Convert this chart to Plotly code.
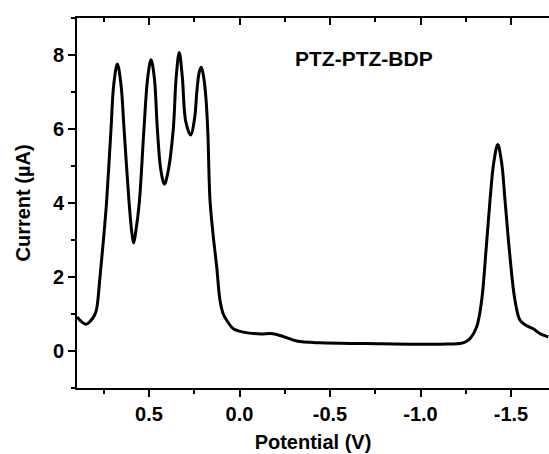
import plotly.graph_objects as go

# Potential (V) and current (µA)
potential = [0.898, 0.87, 0.848, 0.825, 0.80, 0.789, 0.771, 0.752, 0.735, 0.71, 0.695, 0.675, 0.655,
             0.638, 0.61, 0.595, 0.585, 0.574, 0.554, 0.528, 0.507, 0.489, 0.471, 0.454, 0.435,
             0.415, 0.393, 0.366, 0.35, 0.333, 0.316, 0.297, 0.27, 0.248, 0.236, 0.222, 0.211,
             0.198, 0.185, 0.175, 0.163, 0.145, 0.126, 0.108, 0.09, 0.071, 0.034, -0.021, -0.12,
             -0.17, -0.224, -0.26, -0.316, -0.445, -0.7, -0.997, -1.15, -1.218, -1.25, -1.273,
             -1.31, -1.338, -1.362, -1.384, -1.405, -1.427, -1.448, -1.467, -1.491, -1.522, -1.55,
             -1.58, -1.623, -1.66, -1.706]
current = [0.92, 0.78, 0.72, 0.80, 0.98, 1.15, 2.0, 3.0, 4.0, 6.0, 7.2, 7.76, 7.2,
           6.0, 4.0, 3.2, 2.92, 3.2, 4.0, 6.0, 7.4, 7.87, 7.4, 6.0, 4.9,
           4.51, 4.9, 6.0, 7.4, 8.07, 7.4, 6.2, 5.84, 6.3, 7.0, 7.55, 7.67,
           7.4, 6.8, 5.9, 4.07, 3.1, 2.27, 1.37, 1.0, 0.83, 0.6, 0.51, 0.46,
           0.47, 0.42, 0.36, 0.27, 0.22, 0.20, 0.18, 0.19, 0.20, 0.25, 0.33,
           0.65, 1.37, 2.72, 4.07, 5.1, 5.58, 5.1, 4.07, 2.72, 1.37, 0.83,
           0.70, 0.6, 0.47, 0.38]

x_tickvals = [0.5, 0.0, -0.5, -1.0, -1.5]
x_ticktext = ["0.5", "0.0", "-0.5", "-1.0", "-1.5"]
y_tickvals = [0, 2, 4, 6, 8]
y_ticktext = ["0", "2", "4", "6", "8"]
x_range = [0.898, -1.71]
y_range = [-1, 9]
label = "PTZ-PTZ-BDP"

FONT = "Liberation Sans"
fig = go.Figure()
fig.add_trace(go.Scatter(x=potential, y=current, mode="lines",
                         line=dict(color="black", width=3, shape="spline", smoothing=1.0),
                         showlegend=False, hoverinfo="skip"))
# invisible copy on top axis so the mirrored (inward) ticks are drawn
fig.add_trace(go.Scatter(x=potential, y=current, mode="lines", xaxis="x2",
                         line=dict(color="rgba(0,0,0,0)", width=0),
                         showlegend=False, hoverinfo="skip"))

fig.update_layout(
    width=549, height=454,
    margin=dict(l=77, r=0, t=18, b=66, autoexpand=False),
    plot_bgcolor="white", paper_bgcolor="white",
    font=dict(family=FONT, size=20, color="black", weight="bold"),
    xaxis=dict(range=x_range, tickmode="array", tickvals=x_tickvals, ticktext=x_ticktext,
               automargin=False,
               ticks="outside", ticklen=7, tickwidth=2, tickcolor="black",
               showline=True, linewidth=2, linecolor="black",
               showgrid=False, zeroline=False,
               minor=dict(tickmode="linear", tick0=0, dtick=0.25, ticks="outside",
                          ticklen=4, tickwidth=2, tickcolor="black", showgrid=False),
               tickfont=dict(family=FONT, size=20, weight="bold"),
               title=dict(text="Potential (V)", font=dict(family=FONT, size=20, weight="bold"),
                          standoff=11)),
    xaxis2=dict(range=x_range, overlaying="x", side="top", tickmode="array",
                tickvals=x_tickvals, showticklabels=False, automargin=False,
                ticks="inside", ticklen=7, tickwidth=2, tickcolor="black",
                showline=True, linewidth=2, linecolor="black",
                showgrid=False, zeroline=False,
                minor=dict(tickmode="linear", tick0=0, dtick=0.25, ticks="inside",
                           ticklen=4, tickwidth=2, tickcolor="black", showgrid=False)),
    yaxis=dict(range=y_range, tickmode="array", tickvals=y_tickvals, ticktext=y_ticktext,
               automargin=False,
               ticks="outside", ticklen=7, tickwidth=2, tickcolor="black",
               showline=True, linewidth=2, linecolor="black",
               showgrid=False, zeroline=False,
               minor=dict(tickmode="linear", tick0=-1, dtick=1, ticks="outside",
                          ticklen=4, tickwidth=2, tickcolor="black", showgrid=False),
               tickfont=dict(family=FONT, size=20, weight="bold"),
               title=dict(text="Current (µA)", font=dict(family=FONT, size=20, weight="bold"),
                          standoff=17)),
    annotations=[dict(text=label, x=-0.69, y=7.91, xref="x", yref="y", showarrow=False,
                      font=dict(family=FONT, size=21, weight="bold", color="black"))],
)

# remove the default 8px page margin so the figure fills the window exactly
fig.write_html("out.html", config={"displayModeBar": False},
               post_script="document.body.style.margin='0';document.body.style.overflow='hidden';")
